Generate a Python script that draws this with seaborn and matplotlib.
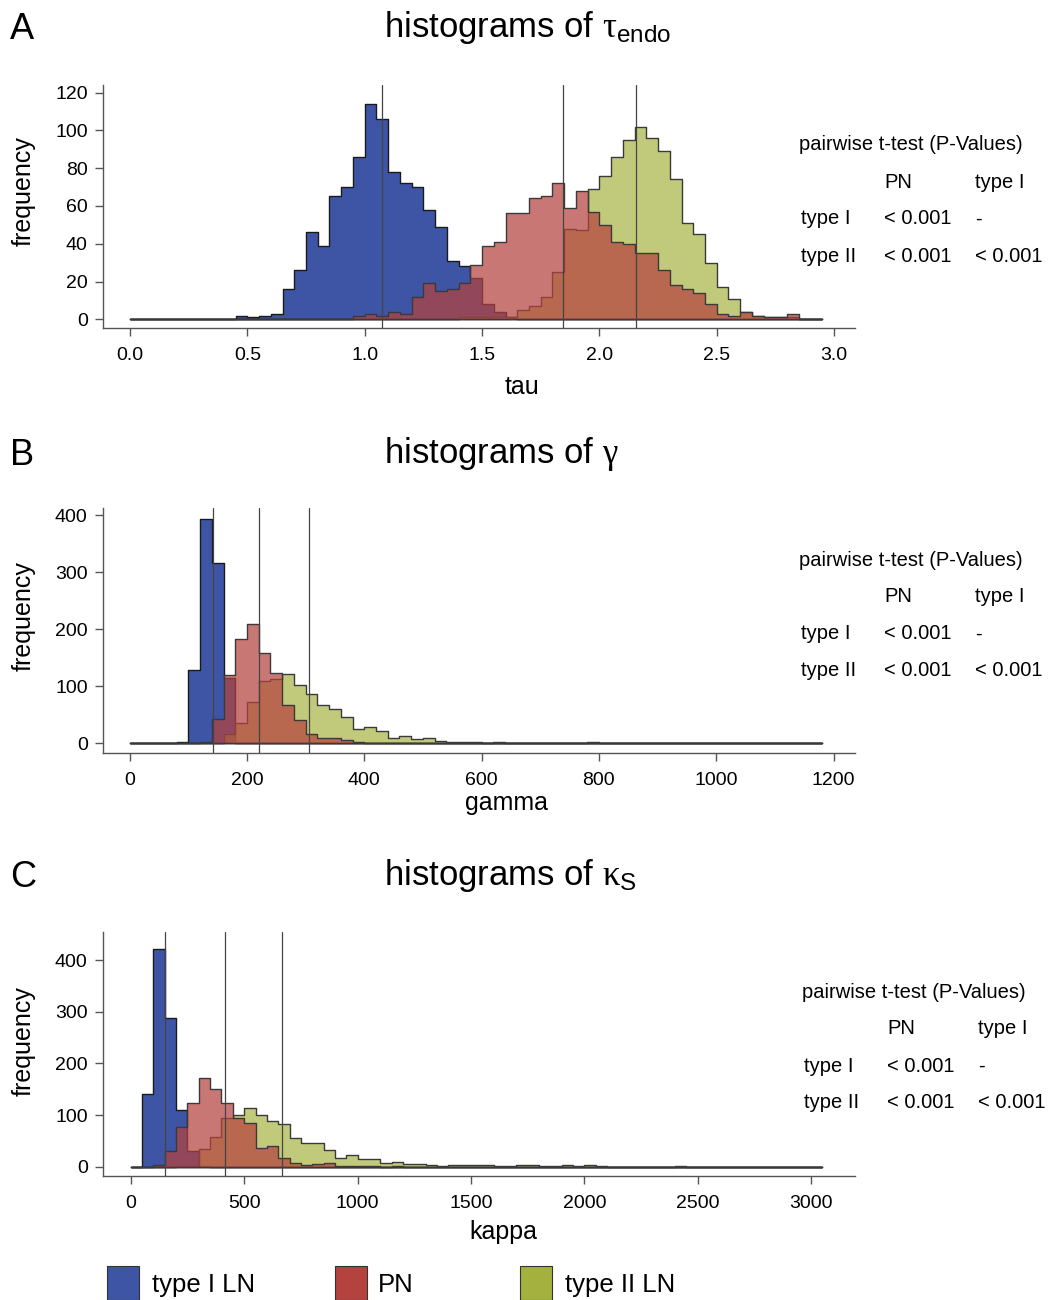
import numpy as np
import pandas as pd
import matplotlib
matplotlib.use('Agg')
import matplotlib.pyplot as plt
from matplotlib.patches import Rectangle
import seaborn as sns

# ---- data (histogram counts) ----
groups = ['type I LN', 'PN', 'type II LN']
colors = ['#3E55A5', '#B4423E', '#A4B13D']

# tau: bins of 0.05 from 0.00 to 2.95
tau_edges = np.round(np.arange(0, 2.951, 0.05), 2)
tau_typeI = [0, 0, 0, 0, 0, 0, 0, 0, 0, 2,
             1, 2, 3, 16, 26, 46, 39, 65, 70, 86,
             114, 106, 78, 72, 70, 58, 49, 31, 28, 22,
             8, 4, 1, 0, 0, 0, 0, 0, 0, 0,
             0, 0, 0, 0, 0, 0, 0, 0, 0, 0,
             0, 0, 0, 0, 0, 0, 0, 0, 0]
tau_PN = [0, 0, 0, 0, 0, 0, 0, 0, 0, 0,
          0, 0, 0, 0, 0, 0, 0, 0, 0, 2,
          3, 2, 4, 3, 12, 19, 15, 16, 19, 29,
          39, 41, 56, 56, 64, 65, 72, 59, 68, 57,
          50, 41, 40, 35, 35, 26, 18, 16, 14, 8,
          3, 2, 4, 2, 1, 1, 3, 0, 0]
tau_typeII = [0, 0, 0, 0, 0, 0, 0, 0, 0, 0,
              0, 0, 0, 0, 0, 0, 0, 0, 0, 0,
              0, 0, 0, 0, 0, 0, 0, 0, 1, 1,
              1, 1, 1, 5, 7, 12, 25, 48, 47, 69,
              76, 86, 95, 102, 96, 89, 74, 51, 45, 30,
              17, 11, 4, 2, 1, 1, 1, 0, 0]
tau_means = [1.074, 1.845, 2.156]

# gamma: bins of 20 from 0 to 1180
gamma_edges = np.arange(0, 1181, 20)
gamma_typeI = [0, 0, 0, 0, 2, 129, 394, 317, 114, 1,
               0, 0, 0, 0, 0, 0, 0, 0, 0, 0,
               0, 0, 0, 0, 0, 0, 0, 0, 0, 0,
               0, 0, 0, 0, 0, 0, 0, 0, 0, 0,
               0, 0, 0, 0, 0, 0, 0, 0, 0, 0,
               0, 0, 0, 0, 0, 0, 0, 0, 0]
gamma_PN = [0, 0, 0, 0, 0, 0, 2, 43, 120, 183,
            210, 158, 123, 67, 41, 17, 10, 9, 5, 2,
            1, 1, 1, 0, 0, 0, 0, 0, 0, 0,
            0, 0, 0, 0, 0, 0, 0, 0, 0, 0,
            0, 0, 0, 0, 0, 0, 0, 0, 0, 0,
            0, 0, 0, 0, 0, 0, 0, 0, 0]
gamma_typeII = [0, 0, 0, 0, 0, 0, 0, 0, 17, 35,
                73, 109, 112, 122, 102, 86, 68, 60, 46, 25,
                28, 22, 10, 12, 7, 9, 4, 3, 3, 3,
                1, 2, 1, 0, 1, 1, 0, 1, 1, 2,
                1, 0, 0, 0, 0, 0, 0, 0, 0, 0,
                0, 0, 0, 0, 0, 1, 0, 0, 0]
gamma_means = [141.5, 221, 306]

# kappa: bins of 50 from 0 to 3050
kappa_edges = np.arange(0, 3051, 50)
kappa_typeI = [0, 141, 421, 287, 110, 30, 2, 0, 0, 0,
               0, 0, 0, 0, 0, 0, 0, 0, 0, 0,
               0, 0, 0, 0, 0, 0, 0, 0, 0, 0,
               0, 0, 0, 0, 0, 0, 0, 0, 0, 0,
               0, 0, 0, 0, 0, 0, 0, 0, 0, 0,
               0, 0, 0, 0, 0, 0, 0, 0, 0, 0,
               0]
kappa_PN = [0, 0, 4, 30, 77, 124, 172, 150, 123, 95,
            84, 37, 41, 16, 8, 4, 6, 8, 1, 1,
            1, 1, 0, 1, 0, 0, 0, 0, 0, 0,
            0, 0, 0, 0, 0, 0, 0, 0, 0, 0,
            0, 0, 0, 0, 0, 0, 0, 0, 0, 0,
            0, 0, 0, 0, 0, 0, 0, 0, 0, 0,
            0]
kappa_typeII = [0, 0, 0, 0, 1, 2, 35, 58, 94, 100,
                114, 101, 89, 82, 56, 45, 45, 32, 17, 23,
                14, 14, 8, 10, 5, 6, 3, 1, 3, 3,
                3, 3, 2, 1, 3, 3, 1, 1, 3, 1,
                3, 1, 0, 0, 0, 0, 0, 0, 1, 0,
                0, 0, 0, 0, 0, 0, 0, 0, 0, 0,
                0]
kappa_means = [151, 415, 668]

table_rows = [['', 'PN', 'type I'],
              ['type I', '< 0.001', '-'],
              ['type II', '< 0.001', '< 0.001']]

# ---- style ----
sns.set_style('ticks')
plt.rcParams['font.family'] = ['Liberation Sans', 'DejaVu Sans']
plt.rcParams['mathtext.fontset'] = 'custom'
plt.rcParams['mathtext.rm'] = 'Liberation Sans'
plt.rcParams['mathtext.it'] = 'Liberation Serif'
plt.rcParams['mathtext.bf'] = 'Liberation Sans:bold'
plt.rcParams['text.color'] = 'black'
plt.rcParams['axes.labelcolor'] = 'black'

W, H = 1048, 1300
fig = plt.figure(figsize=(W / 100, H / 100), dpi=100)


def fx(px):
    return px / W


def fy(py):
    return 1 - py / H


panels = [
    dict(letter='A', title=r'histograms of $\tau_{\mathrm{endo}}$', xlabel='tau',
         edges=tau_edges, counts=[tau_typeI, tau_PN, tau_typeII], means=tau_means,
         top=85, bottom=328, xlim=(-0.115, 3.089), ylim=(-4.6, 124.0),
         xticks=np.arange(0, 3.01, 0.5), yticks=np.arange(0, 121, 20), fmt='{:.1f}',
         xlab_pos=(522, 387), ylab_y=191.5, title_y=37, table_y=145, table_dx=0),
    dict(letter='B', title=r'histograms of $\gamma$', xlabel='gamma',
         edges=gamma_edges, counts=[gamma_typeI, gamma_PN, gamma_typeII], means=gamma_means,
         top=508, bottom=752.7, xlim=(-45.5, 1236.6), ylim=(-16.5, 412.8),
         xticks=np.arange(0, 1201, 200), yticks=np.arange(0, 401, 100), fmt='{:.0f}',
         xlab_pos=(507, 803), ylab_y=616, title_y=463, table_y=560, table_dx=0),
    dict(letter='C', title=r'histograms of $\kappa_{\mathrm{S}}$', xlabel='kappa',
         edges=kappa_edges, counts=[kappa_typeI, kappa_PN, kappa_typeII], means=kappa_means,
         top=932, bottom=1176, xlim=(-122.6, 3194), ylim=(-18, 454.2),
         xticks=np.arange(0, 3001, 500), yticks=np.arange(0, 401, 100), fmt='{:.0f}',
         xlab_pos=(503, 1232), ylab_y=1041, title_y=885, table_y=992, table_dx=3),
]

# draw order: type I, type II, then PN on top
order = [0, 2, 1]
alphas = [1.0, 0.72, 0.68]

for p in panels:
    ax = fig.add_axes([fx(103), fy(p['bottom']), fx(752), (p['bottom'] - p['top']) / H])
    edges = np.asarray(p['edges'], dtype=float)
    centers = (edges[:-1] + edges[1:]) / 2
    for i in order:
        df = pd.DataFrame({'value': centers, 'count': np.asarray(p['counts'][i], dtype=float)})
        sns.histplot(data=df, x='value', weights='count', bins=edges.tolist(), element='step',
                     fill=True, color=colors[i], alpha=alphas[i],
                     edgecolor='#1a1a1a' if i == 0 else '#3a3a3a', linewidth=1.0, ax=ax)
    for m in p['means']:
        ax.axvline(m, color='#444444', lw=0.9, zorder=5)

    ax.set_xlim(p['xlim'])
    ax.set_ylim(p['ylim'])
    ax.set_xticks(p['xticks'])
    ax.set_xticklabels([p['fmt'].format(t) for t in p['xticks']])
    ax.set_yticks(p['yticks'])
    ax.tick_params(axis='both', labelsize=14, length=6, width=1, color='#555555',
                   labelcolor='black')
    ax.tick_params(axis='x', pad=8)
    ax.tick_params(axis='y', pad=5)
    sns.despine(ax=ax)
    for s in ['left', 'bottom']:
        ax.spines[s].set_color('#555555')
        ax.spines[s].set_linewidth(1)

    ax.set_xlabel(p['xlabel'], fontsize=18, va='center', color='black')
    ax.xaxis.set_label_coords(fx(p['xlab_pos'][0]), fy(p['xlab_pos'][1]), transform=fig.transFigure)
    ax.set_ylabel('frequency', fontsize=18, va='center', color='black')
    ax.yaxis.set_label_coords(fx(24), fy(p['ylab_y']), transform=fig.transFigure)

    fig.text(fx(10), fy(p['title_y'] + 2), p['letter'], fontsize=26, va='baseline', ha='left')
    fig.text(fx(384), fy(p['title_y']), p['title'], fontsize=25, va='baseline', ha='left')

    # p-value table
    dx = p['table_dx']
    fig.text(fx(799 + dx), fy(p['table_y']), 'pairwise t-test (P-Values)',
             fontsize=14.5, va='center', ha='left')
    for r, row in enumerate(table_rows):
        yy = p['table_y'] + 37 * (r + 1)
        for c, val in enumerate(row):
            if val:
                fig.text(fx([801, 884, 975][c] + dx), fy(yy), val,
                         fontsize=14.5, va='center', ha='left')

# legend at bottom
leg_x = [107, 335, 520]
leg_tx = [152, 378, 565]
for i in range(3):
    fig.patches.append(Rectangle((fx(leg_x[i]), 0), fx(32), 34 / H,
                                 transform=fig.transFigure, facecolor=colors[i],
                                 edgecolor='#333333', lw=0.8))
    fig.text(fx(leg_tx[i]), fy(1285), groups[i], fontsize=18.5, va='center', ha='left')

fig.savefig('out.png', dpi=100)
